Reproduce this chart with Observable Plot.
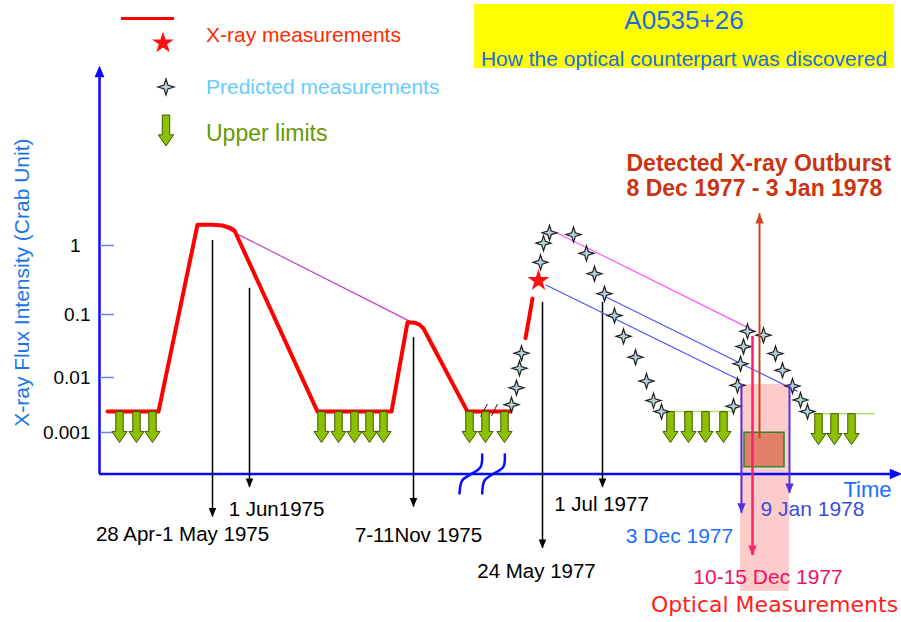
<!DOCTYPE html>
<html><head><meta charset="utf-8">
<script src="https://cdn.jsdelivr.net/npm/d3@7"></script>
<script src="https://cdn.jsdelivr.net/npm/@observablehq/plot@0.6"></script>
<style>
body{margin:0;background:#fff;font-family:"Liberation Sans",Arial,Helvetica,sans-serif}
#wrap{position:relative;width:901px;height:622px;overflow:hidden}
.lbl{position:absolute;white-space:nowrap;line-height:1;transform:translateY(-50%)}
.sym{position:absolute;overflow:visible}
#box{position:absolute;left:474px;top:4px;width:420px;height:64px;background:#ffff00}
</style></head><body>
<div id="wrap"></div>
<script>
// ---------- DATA (schematic time t, flux in Crab units) ----------
const yTicks = [0.001, 0.01, 0.1, 1];
const yTickLabels = ["0.001", "0.01", "0.1", "1"];

// measured X-ray light curve (red)
const xrayT    = [8, 59, 98, 113, 123, 130, 135, 218, 292, 308, 315, 320, 324, 368, 411];
const xrayFlux = [0.0024, 0.0024, 2.0, 2.0, 1.95, 1.82, 1.65, 0.0024, 0.0024, 0.075, 0.074, 0.069, 0.06, 0.0024, 0.0024];
const xrayRiseT    = [426, 433];
const xrayRiseFlux = [0.042, 0.17];
const starT    = [439];
const starFlux = [0.31];

// predicted measurements
const predT    = [412, 417, 420, 422, 441, 444, 450, 474, 487, 495, 505, 515, 524, 536, 547, 554, 562,
                  634, 638, 641, 644, 648, 664, 676, 683, 693, 701, 708];
const predFlux = [0.0032, 0.0065, 0.014, 0.0243, 0.57, 1.08, 1.53, 1.44, 0.77, 0.39, 0.2, 0.096, 0.045, 0.021, 0.0086, 0.0038, 0.0024,
                  0.003, 0.0072, 0.0165, 0.031, 0.054, 0.047, 0.024, 0.013, 0.007, 0.0039, 0.0024];

// upper limits
const limitT    = [20, 37, 53, 222, 239, 255, 270, 284, 370, 386, 405, 571, 589, 606, 624, 719, 735, 752];
const limitFlux = [0.0024, 0.0024, 0.0024, 0.0024, 0.0024, 0.0024, 0.0024, 0.0024, 0.0024, 0.0024, 0.0024,
                   0.0024, 0.0024, 0.0024, 0.0024, 0.0022, 0.0022, 0.0022];

// quiescent level (predicted, light green)
const quietT1 = [568, 714];
const quietT2 = [634, 776];
const quietFlux = [0.0024, 0.0022];

// peak-to-peak connectors
const link1975 = {t1: 121, v1: 1.95, t2: 311, v2: 0.077};
const linkPeak = {t1: 456, v1: 1.56, t2: 653, v2: 0.057};
const linkStar = {t1: 446, v1: 0.27, t2: 641, v2: 0.0088};
const linkJul  = {t1: 503, v1: 0.19, t2: 698, v2: 0.0056};

// dated observations (black arrows)
const dateArrowT    = [113, 150, 314, 443, 503];
const dateArrowFrom = [1.18, 0.24, 0.043, 0.15, 0.15];
const dateArrowTo   = [2.9e-5, 1.0e-4, 4.4e-5, 7.8e-6, 1.0e-4];
const dateLabels    = ["28 Apr-1 May 1975", "1 Jun1975", "7-11Nov 1975", "24 May 1977", "1 Jul 1977"];
const dateLabelT    = [83, 177, 319, 437, 502];
const dateLabelFlux = [1.4e-5, 4.0e-5, 1.34e-5, 3.0e-6, 4.9e-5];

// prediction window 3 Dec 1977 - 9 Jan 1978
const windowT    = [642, 690];
const windowFrom = [0.0075, 0.0075];
const windowTo   = [3.4e-5, 7.8e-5];
const windowLabels    = ["3 Dec 1977", "9 Jan 1978"];
const windowLabelT    = [580, 713];
const windowLabelFlux = [1.29e-5, 4.0e-5];
const windowBand = {t1: 641, t2: 690, v1: 0.0075, v2: 1.29e-6};

// optical measurements 10-15 Dec 1977
const opticalArrow = {t: 653, from: 0.0448, to: 5.8e-6};
const opticalLabels = ["10-15 Dec 1977", "Optical Measurements"];
const opticalLabelT = [668.5, 675];
const opticalLabelFlux = [2.3e-6, 7.2e-7];

// detected outburst 8 Dec 1977 - 3 Jan 1978
const outburstBox = {t1: 645, t2: 685, v1: 0.00099, v2: 2.34e-4};
const outburstArrow = {t: 660, from: 7.8e-4, to: 2.9};
const outburstLabels = ["Detected X-ray Outburst", "8 Dec 1977 - 3 Jan 1978"];
const outburstLabelT = 527;
const outburstLabelFlux = [15.3, 6.6];

// axes (schematic, with break)
const axisFloor = 1.76e-4;
const yAxisTop = 380;
const xAxisEnd = 801;
const breakAT = [382.7, 381, 371, 362.7, 360];
const breakBT = [405.3, 403.7, 392.7, 385, 382.7];
const breakFlux = [4.0e-4, 2.34e-4, 1.72e-4, 1.34e-4, 7.8e-5];
const slashT1 = [381, 392], slashT2 = [388, 398];
const slashV1 = [0.00195, 0.002], slashV2 = [0.0033, 0.0033];

// y scale knots (schematic, unevenly spaced decades)
const yKnots = [1e-4, 1e-3, 1e-2, 1e-1, 1, 10];
const yKnotPx = [487, 432, 377, 314, 245, 176];

// ---------- SYMBOLS ----------
const star4 = {draw(c, size){const r=Math.sqrt(size/Math.PI), k=0.24*r;
  c.moveTo(0,-r);c.lineTo(k,-k);c.lineTo(r,0);c.lineTo(k,k);c.lineTo(0,r);c.lineTo(-k,k);c.lineTo(-r,0);c.lineTo(-k,-k);c.closePath();}};
const limitArrow = {draw(c, size){const s=Math.sqrt(size/Math.PI), w=0.12*s, h=0.245*s, y0=0.64*s;
  c.moveTo(-w,0);c.lineTo(w,0);c.lineTo(w,y0);c.lineTo(h,y0);c.lineTo(0,s);c.lineTo(-h,y0);c.lineTo(-w,y0);c.closePath();}};
const headDown = {draw(c, size){const s=Math.sqrt(size/Math.PI);c.moveTo(0,0);c.lineTo(-0.42*s,-s);c.lineTo(0.42*s,-s);c.closePath();}};
const headUp = {draw(c, size){const s=Math.sqrt(size/Math.PI);c.moveTo(0,0);c.lineTo(-0.42*s,s);c.lineTo(0.42*s,s);c.closePath();}};
const headRight = {draw(c, size){const s=Math.sqrt(size/Math.PI);c.moveTo(0,0);c.lineTo(-s,-0.42*s);c.lineTo(-s,0.42*s);c.closePath();}};

// ---------- TABLES ----------
const zip = (ts, vs) => ts.map((t, i) => ({t, v: vs[i]}));
const xray = zip(xrayT, xrayFlux);
const xrayRise = zip(xrayRiseT, xrayRiseFlux);
const star = zip(starT, starFlux);
const pred = zip(predT, predFlux);
const limits = zip(limitT, limitFlux);
const quiet = quietT1.map((t1, i) => ({t1, t2: quietT2[i], v: quietFlux[i]}));
const dates = dateArrowT.map((t, i) => ({t, from: dateArrowFrom[i], to: dateArrowTo[i], label: dateLabels[i], lt: dateLabelT[i], lv: dateLabelFlux[i]}));
const wins = windowT.map((t, i) => ({t, from: windowFrom[i], to: windowTo[i], label: windowLabels[i], lt: windowLabelT[i], lv: windowLabelFlux[i]}));
const breakA = zip(breakAT, breakFlux), breakB = zip(breakBT, breakFlux);
const slashes = slashT1.map((t1, i) => ({t1, t2: slashT2[i], v1: slashV1[i], v2: slashV2[i]}));
const tickTable = yTicks.map((v, i) => ({v, label: yTickLabels[i]}));

const FONT = '"Liberation Sans", Arial, Helvetica, sans-serif';
const AX = "#0a0aff";

const lnk = (o, stroke) => Plot.link([o], {x1: "t1", y1: "v1", x2: "t2", y2: "v2", stroke, strokeWidth: 1.2});

const chart = Plot.plot({
  width: 901, height: 622,
  marginLeft: 99, marginRight: 0, marginTop: 0, marginBottom: 0,
  style: {fontFamily: FONT, background: "transparent", overflow: "visible"},
  x: {domain: [0, 802], axis: null},
  y: {type: "log", domain: yKnots, range: yKnotPx, axis: null},
  marks: [
    Plot.rect([windowBand], {x1: "t1", x2: "t2", y1: "v1", y2: "v2", fill: "#ffcccc"}),
    Plot.rect([outburstBox], {x1: "t1", x2: "t2", y1: "v1", y2: "v2", fill: "#e2806a", stroke: "#2a8a2a", strokeWidth: 1.5}),
    // axes
    Plot.ruleX([0], {y1: axisFloor, y2: yAxisTop / 1.2, stroke: AX, strokeWidth: 2.5}),
    Plot.ruleY([axisFloor], {x1: 0, x2: xAxisEnd - 6, stroke: AX, strokeWidth: 2.5}),
    Plot.dot([{t: 0, v: yAxisTop}], {x: "t", y: "v", symbol: headUp, r: 9, fill: AX, stroke: AX}),
    Plot.dot([{t: xAxisEnd, v: axisFloor}], {x: "t", y: "v", symbol: headRight, r: 10, fill: AX, stroke: AX}),
    Plot.ruleY(yTicks, {x1: 1, x2: 15, stroke: "#7a7aff", strokeWidth: 1.5}),
    Plot.text(tickTable.filter(d => d.v < 1), {x: 0, y: "v", text: "label", dx: -9, textAnchor: "end", fontSize: 19, fill: "black"}),
    Plot.text(tickTable.filter(d => d.v >= 1), {x: 0, y: "v", text: "label", dx: -19, textAnchor: "end", fontSize: 19, fill: "black"}),
    Plot.line(breakA, {x: "t", y: "v", curve: "catmull-rom", stroke: AX, strokeWidth: 2.5}),
    Plot.line(breakB, {x: "t", y: "v", curve: "catmull-rom", stroke: AX, strokeWidth: 2.5}),
    // dated observations
    Plot.ruleX(dates, {x: "t", y1: "from", y2: "to", stroke: "black", strokeWidth: 1.5}),
    Plot.dot(dates, {x: "t", y: "to", symbol: headDown, r: 9, fill: "black"}),
    Plot.text(dates, {x: "lt", y: "lv", text: "label", fontSize: 20.5, fill: "black"}),
    // connectors
    lnk(link1975, "#c040d0"),
    lnk(linkPeak, "#ff55ff"),
    lnk(linkStar, "#4a55ff"),
    lnk(linkJul, "#4a55ff"),
    // X-ray measurements
    Plot.line(xray, {x: "t", y: "v", stroke: "#ff0000", strokeWidth: 4, strokeLinejoin: "round"}),
    Plot.line(xrayRise, {x: "t", y: "v", stroke: "#ff0000", strokeWidth: 4}),
    Plot.link(slashes, {x1: "t1", y1: "v1", x2: "t2", y2: "v2", stroke: "#222", strokeWidth: 1}),
    Plot.ruleY(quiet, {x1: "t1", x2: "t2", y: "v", stroke: "#b8e070", strokeWidth: 1.5}),
    // upper limits
    Plot.dot(limits, {x: "t", y: "v", symbol: limitArrow, r: 31, fill: "#8cc000", stroke: "#3f5a00", strokeWidth: 1}),
    // predicted
    Plot.dot(pred, {x: "t", y: "v", symbol: star4, r: 7.5, fill: "#b4d4dc", stroke: "#1e1e1e", strokeWidth: 1.2}),
    Plot.dot(star, {x: "t", y: "v", symbol: "star", r: 6.9, fill: "#ff1010", stroke: "none"}),
    // window arrows
    Plot.ruleX(wins, {x: "t", y1: "from", y2: "to", stroke: "#5533dd", strokeWidth: 2}),
    Plot.dot(wins, {x: "t", y: "to", symbol: headDown, r: 10, fill: "#5533dd"}),
    Plot.text([wins[0]], {x: "lt", y: "lv", text: "label", fontSize: 21, fill: "#1a6fff"}),
    Plot.text([wins[1]], {x: "lt", y: "lv", text: "label", fontSize: 21, fill: "#3a4cdc"}),
    // optical
    Plot.ruleX([opticalArrow], {x: "t", y1: "from", y2: "to", stroke: "#ff2266", strokeWidth: 2.5}),
    Plot.dot([opticalArrow], {x: "t", y: "to", symbol: headDown, r: 10, fill: "#ff2266"}),
    Plot.text([opticalLabels[0]], {x: opticalLabelT[0], y: opticalLabelFlux[0], text: d => d, fontSize: 21, fill: "#ee1166"}),
    Plot.text([opticalLabels[1]], {x: opticalLabelT[1], y: opticalLabelFlux[1], text: d => d, fontSize: 22, fill: "#ff2020", fontFamily: '"DejaVu Sans", sans-serif'}),
    // outburst
    Plot.ruleX([outburstArrow], {x: "t", y1: "from", y2: "to", stroke: "#cc4422", strokeWidth: 2}),
    Plot.dot([outburstArrow], {x: "t", y: "to", symbol: headUp, r: 10, fill: "#cc4422"}),
    Plot.text(outburstLabels, {x: outburstLabelT, y: (d, i) => outburstLabelFlux[i], text: d => d, textAnchor: "start", fontSize: 23, fontWeight: "bold", fill: "#cc3311"}),
    // axis titles
    Plot.text(["X-ray Flux Intensity (Crab Unit)"], {x: -77, y: 0.29, text: d => d, rotate: -90, fontSize: 21, fill: "#1a73e8"}),
    Plot.text(["Time"], {x: 768, y: 9.2e-5, text: d => d, fontSize: 22, fill: "#1a6fff"})
  ]
});

const wrap = document.getElementById("wrap");
wrap.append(chart);

// ---------- LEGEND & TITLE (HTML overlay) ----------
function label(text, left, cy, size, color, parent = wrap) {
  const d = document.createElement("div");
  d.className = "lbl"; d.textContent = text;
  Object.assign(d.style, {left: left + "px", top: cy + "px", fontSize: size + "px", color});
  parent.append(d); return d;
}
function symbolSvg(type, size, cx, cy, fill, stroke, sw) {
  const svg = d3.create("svg").attr("class", "sym").attr("width", 1).attr("height", 1)
    .style("left", cx + "px").style("top", cy + "px");
  svg.append("path").attr("d", d3.symbol(type, size)()).attr("fill", fill)
    .attr("stroke", stroke).attr("stroke-width", sw);
  wrap.append(svg.node());
}
const legLine = document.createElement("div");
Object.assign(legLine.style, {position: "absolute", left: "121px", top: "17px", width: "53px", height: "3px", background: "#ff0000"});
wrap.append(legLine);
symbolSvg(d3.symbolStar, 148, 163, 43, "#ff1010", "none", 0);
symbolSvg(star4, Math.PI * 64, 166, 87, "#b4d4dc", "#1e1e1e", 1.2);
symbolSvg(limitArrow, Math.PI * 31 * 31, 166, 115, "#8cc000", "#3f5a00", 1);
label("X-ray measurements", 206, 34, 21, "#ff2a00");
label("Predicted measurements", 206, 86, 21, "#66ccff");
label("Upper limits", 206, 133, 23, "#669900");

const box = document.createElement("div"); box.id = "box"; wrap.append(box);
const t1 = label("A0535+26", 0, 16, 26, "#1b6ce6", box);
Object.assign(t1.style, {width: "420px", textAlign: "center"});
const t2 = label("How the optical counterpart was discovered", 0, 54, 21, "#1b6ce6", box);
Object.assign(t2.style, {width: "420px", textAlign: "center"});
</script></body></html>
